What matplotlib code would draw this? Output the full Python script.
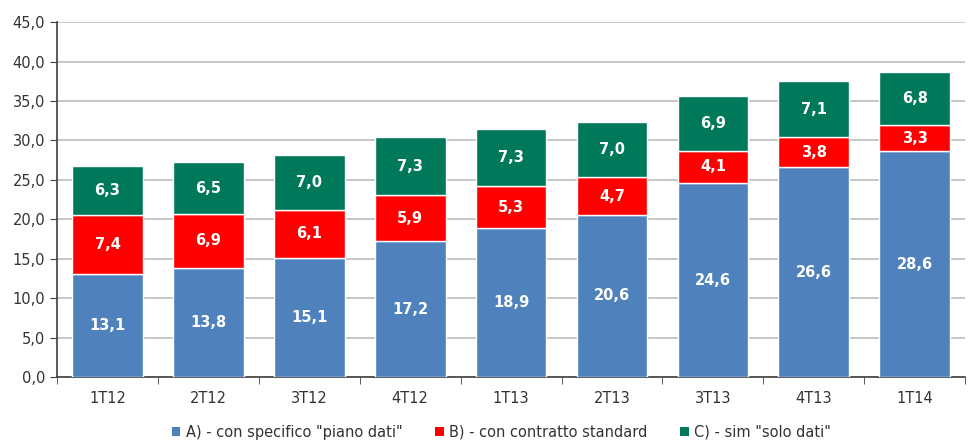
import matplotlib
matplotlib.use("Agg")
import matplotlib.pyplot as plt
import numpy as np

categories = ["1T12", "2T12", "3T12", "4T12", "1T13", "2T13", "3T13", "4T13", "1T14"]
serie_a = [13.1, 13.8, 15.1, 17.2, 18.9, 20.6, 24.6, 26.6, 28.6]
serie_b = [7.4, 6.9, 6.1, 5.9, 5.3, 4.7, 4.1, 3.8, 3.3]
serie_c = [6.3, 6.5, 7.0, 7.3, 7.3, 7.0, 6.9, 7.1, 6.8]
series_names = ['A) - con specifico "piano dati"', 'B) - con contratto standard', 'C) - sim "solo dati"']
colors = ["#4F81BD", "#FF0000", "#00785A"]

plt.rcParams['font.family'] = ['DejaVu Sans']
fig = plt.figure(figsize=(9.68, 4.42), dpi=100)
ax = fig.add_axes([0.059, 0.147, 0.938, 0.803])

x = np.arange(len(categories))
w = 0.7
bottom = np.zeros(len(categories))
for vals, col, name in zip([serie_a, serie_b, serie_c], colors, series_names):
    ax.bar(x, vals, w, bottom=bottom, color=col, edgecolor="white", linewidth=1.0, label=name, zorder=3)
    for xi, b, v in zip(x, bottom, vals):
        ax.text(xi, b + v / 2, f"{v:.1f}".replace(".", ","), ha="center", va="center",
                color="white", fontweight="bold", fontsize=10.5, zorder=4)
    bottom += np.array(vals)

ax.set_xlim(-0.5, len(categories) - 0.5)
ax.set_ylim(0, 45)
ax.set_yticks(np.arange(0, 46, 5))
ax.set_yticklabels([f"{v:.1f}".replace(".", ",") for v in np.arange(0, 46, 5)])
ax.set_xticks(x)
ax.set_xticklabels(categories)
ax.set_xticks(np.arange(-0.5, len(categories), 1), minor=True)
ax.tick_params(axis="x", which="major", length=0, pad=10)
ax.tick_params(axis="x", which="minor", length=5, direction="out", color="#404040")
ax.tick_params(axis="y", length=5, direction="out", color="#404040")
ax.tick_params(labelsize=10.5, labelcolor="#333333")
ax.grid(axis="y", color="#BEBEBE", linewidth=1.2, zorder=0)
for s in ["top", "right"]:
    ax.spines[s].set_visible(False)
ax.spines["left"].set_color("#404040")
ax.spines["bottom"].set_color("#404040")
ax.spines["left"].set_linewidth(1.2)
ax.spines["bottom"].set_linewidth(1.2)

leg = fig.legend(loc="lower center", bbox_to_anchor=(0.518, -0.025), ncol=3, frameon=False,
                 fontsize=10.5, handlelength=0.6, handleheight=0.6, handletextpad=0.4,
                 columnspacing=2.2, labelcolor="#333333")
for h in leg.legend_handles:
    h.set_edgecolor("none")

fig.savefig("out.png", dpi=100)
